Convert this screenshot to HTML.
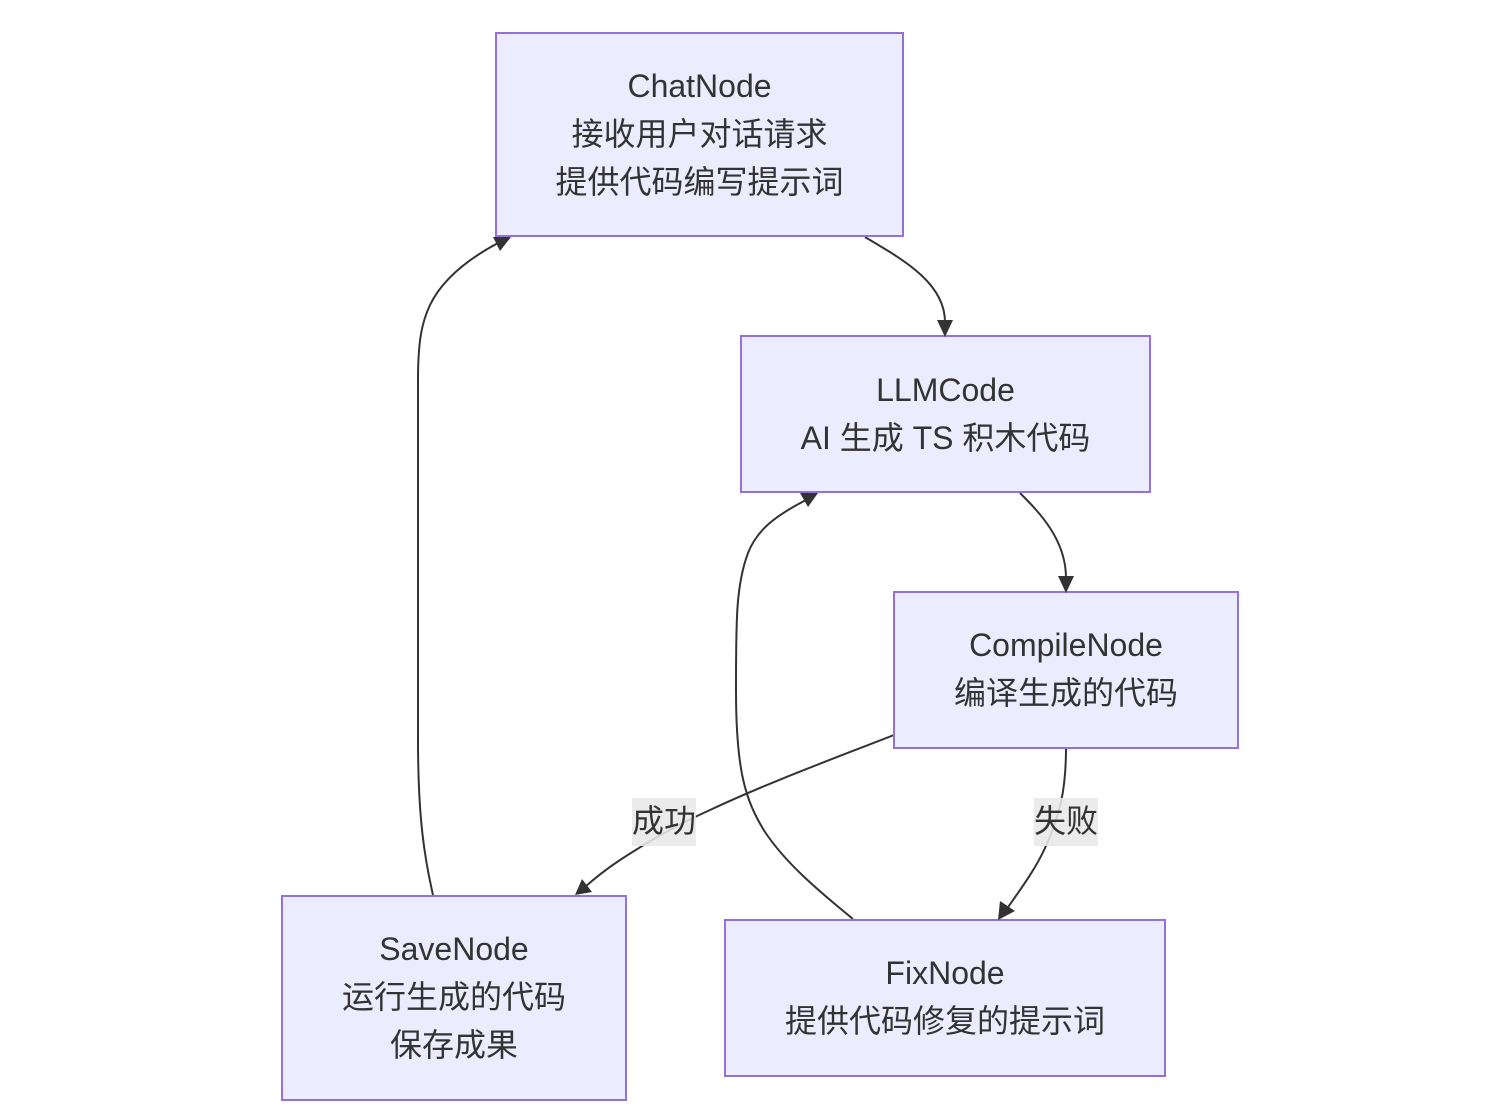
<!DOCTYPE html>
<html>
<head>
<meta charset="utf-8">
<style>
html,body{margin:0;padding:0;background:#fff;}
svg{display:block;}
text{font-family:"Liberation Sans","Noto Sans CJK SC",sans-serif;font-size:32px;fill:#333;text-anchor:middle;}
.n{fill:#ECECFF;stroke:#9370DB;stroke-width:2;}
.e{fill:none;stroke:#333;stroke-width:2;}
.a{fill:#333;stroke:none;}
.l{fill:#e8e8e8;fill-opacity:.88;}
</style>
</head>
<body>
<svg width="1504" height="1116" viewBox="0 0 1504 1116" xmlns="http://www.w3.org/2000/svg">
<path class="e" d="M865,237 C900,258 945,282 945,322"/>
<path class="e" d="M1020,493 C1040,513 1066,540 1066,578"/>
<path class="e" d="M894,735 C830,760 770,782 710,810 C670,828 640,847 620,860 C605,870 595,878 585,887"/>
<path class="e" d="M1066,748 C1066,790 1060,815 1045,848 C1035,870 1020,890 1006,910"/>
<path class="e" d="M853,919 C815,888 785,862 765,832 C745,800 736,770 736,690 C736,620 736,585 748,553 C757,530 775,516 806,500"/>
<path class="e" d="M433,895 C425,860 418,820 418,740 L418,380 C418,340 422,322 430,305 C443,278 470,258 498,243"/>
<rect class="n" x="496" y="33" width="407" height="203"/>
<rect class="n" x="741" y="336" width="409" height="156"/>
<rect class="n" x="894" y="592" width="344" height="156"/>
<rect class="n" x="282" y="896" width="344" height="204"/>
<rect class="n" x="725" y="920" width="440" height="156"/>
<polygon class="a" points="945,337 937,320 953,320"/>
<polygon class="a" points="1066,593 1058,576 1074,576"/>
<polygon class="a" points="575,895 582,879 592,892"/>
<polygon class="a" points="998,920 1000,901 1015,911"/>
<polygon class="a" points="818,493 808,507 800,493"/>
<polygon class="a" points="511,237 500,251 493,237"/>
<rect class="l" x="632" y="798" width="64" height="48"/>
<rect class="l" x="1034" y="798" width="64" height="48"/>
<text x="699.5" y="97">ChatNode</text>
<text x="699.5" y="145">接收用户对话请求</text>
<text x="699.5" y="193">提供代码编写提示词</text>
<text x="945.5" y="401">LLMCode</text>
<text x="945.5" y="449">AI 生成 TS 积木代码</text>
<text x="1066" y="656">CompileNode</text>
<text x="1066" y="704">编译生成的代码</text>
<text x="454" y="960">SaveNode</text>
<text x="454" y="1008">运行生成的代码</text>
<text x="454" y="1056">保存成果</text>
<text x="945" y="984">FixNode</text>
<text x="945" y="1032">提供代码修复的提示词</text>
<text x="664" y="832">成功</text>
<text x="1066" y="832">失败</text>
</svg>
</body>
</html>
